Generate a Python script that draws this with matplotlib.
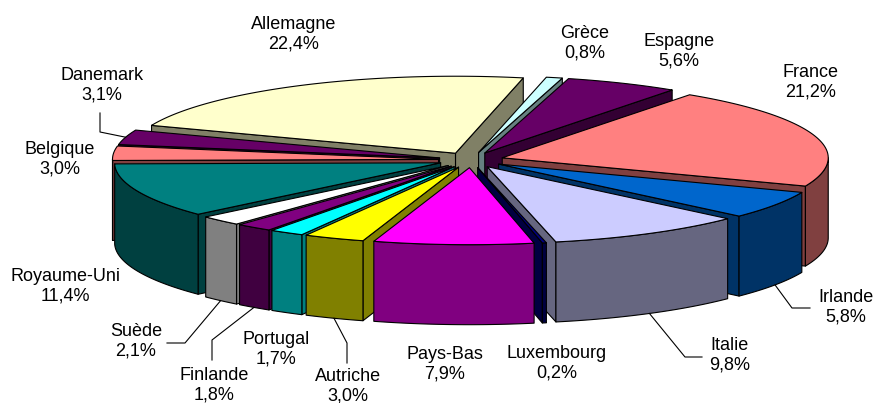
import numpy as np
import matplotlib.pyplot as plt
from matplotlib.patches import Polygon
from matplotlib.colors import to_rgb

# Slices, clockwise from the back (just right of 12 o'clock)
countries = ['Grèce', 'Espagne', 'France', 'Irlande', 'Italie', 'Luxembourg', 'Pays-Bas',
             'Autriche', 'Portugal', 'Finlande', 'Suède', 'Royaume-Uni', 'Belgique',
             'Danemark', 'Allemagne']
shares = [0.8, 5.6, 21.2, 5.8, 9.8, 0.2, 7.9, 3.0, 1.7, 1.8, 2.1, 11.4, 3.0, 3.1, 22.4]
colors = ['#CCFFFF', '#660066', '#FF8080', '#0066CC', '#CCCCFF', '#000080', '#FF00FF',
          '#FFFF00', '#00FFFF', '#800080', '#FFFFFF', '#008080', '#FF8080', '#660066',
          '#FFFFCC']

# label centres (pixels)
label_xy = {
    'Grèce': (585, 43), 'Espagne': (679, 51), 'France': (811, 82),
    'Irlande': (846, 307), 'Italie': (730, 355), 'Luxembourg': (557, 363),
    'Pays-Bas': (445, 364), 'Autriche': (348, 386), 'Portugal': (276, 349),
    'Finlande': (214, 385), 'Suède': (136, 341), 'Royaume-Uni': (65, 286),
    'Belgique': (60, 159), 'Danemark': (102, 85), 'Allemagne': (294, 34),
}
# leader lines: bend points after the anchor on the slice
leaders = {
    'Danemark': [(100, 132), (100, 113)],
    'Irlande': [(792, 308), (810, 308)],
    'Italie': [(685, 357), (702, 357)],
    'Autriche': [(347, 343), (347, 363)],
    'Finlande': [(212, 340), (212, 360)],
    'Suède': [(185, 343), (167, 343)],
}

# pie geometry in pixels
cx, cy = 471, 160
a, b = 326, 77
h = 80
explode = 0.1
start = 78.0

fig = plt.figure(figsize=(8.76, 4.03), dpi=100)
ax = fig.add_axes([0, 0, 1, 1])
ax.set_xlim(0, 876)
ax.set_ylim(403, 0)
ax.axis('off')


def pt(theta, r, off, dz=0.0):
    t = np.radians(theta)
    return (cx + off[0] + a * r * np.cos(t), cy + off[1] - b * r * np.sin(t) + dz)


def shade(c):
    return tuple(0.5 * v for v in to_rgb(c))


total = sum(shares)
slices = []
t2 = start
for name, v, c in zip(countries, shares, colors):
    span = v / total * 360
    t1 = t2 - span
    mid = np.radians((t1 + t2) / 2)
    off = (explode * a * np.cos(mid), -explode * b * np.sin(mid))
    slices.append(dict(name=name, v=v, c=c, t1=t1, t2=t2, mid=mid, off=off))
    t2 = t1


def order_key(s):
    # the slice that holds the back point goes first, then back to front
    back = ((90 - s['t1']) % 360) <= (s['t2'] - s['t1'])
    return (0 if back else 1, -np.sin(s['mid']))


kw = dict(ec='black', lw=0.8, joinstyle='round')
z = 1
for s in sorted(slices, key=order_key):
    t1, t2, off, c = s['t1'], s['t2'], s['off'], s['c']
    dark = shade(c)
    # radial cut faces
    for ang, vis in ((t1, np.cos(np.radians(t1)) > 0), (t2, np.cos(np.radians(t2)) < 0)):
        if vis:
            poly = [pt(ang, 0, off), pt(ang, 1, off), pt(ang, 1, off, h), pt(ang, 0, off, h)]
            ax.add_patch(Polygon(poly, closed=True, fc=dark, zorder=z, **kw))
    # outer wall on the front half
    for k in (-1, 0, 1):
        lo = max(t1, -180 + 360 * k)
        hi = min(t2, 360 * k)
        if hi > lo:
            th = np.linspace(lo, hi, 60)
            upper = [pt(t, 1, off) for t in th]
            lower = [pt(t, 1, off, h) for t in th[::-1]]
            ax.add_patch(Polygon(upper + lower, closed=True, fc=dark, zorder=z, **kw))
    # top face
    th = np.linspace(t1, t2, 120)
    top = [pt(0, 0, off)] + [pt(t, 1, off) for t in th]
    ax.add_patch(Polygon(top, closed=True, fc=c, zorder=z + 0.5, **kw))
    z += 1

# labels and leader lines
for s in slices:
    name = s['name']
    txt = name + '\n' + f"{s['v']:.1f}%".replace('.', ',')
    x, y = label_xy[name]
    ax.text(x, y, txt, ha='center', va='center', fontsize=13,
            family=['Liberation Sans', 'DejaVu Sans'], linespacing=1.2, zorder=100)
    if name in leaders:
        md = np.degrees(s['mid'])
        if np.sin(s['mid']) < 0:
            anchor = pt(md, 1, s['off'], h)
        else:
            anchor = pt(md, 1, s['off'])
        pts = [anchor] + leaders[name]
        ax.plot([p[0] for p in pts], [p[1] for p in pts], color='black', lw=0.8,
                zorder=100)

fig.savefig('out.png', dpi=100)
